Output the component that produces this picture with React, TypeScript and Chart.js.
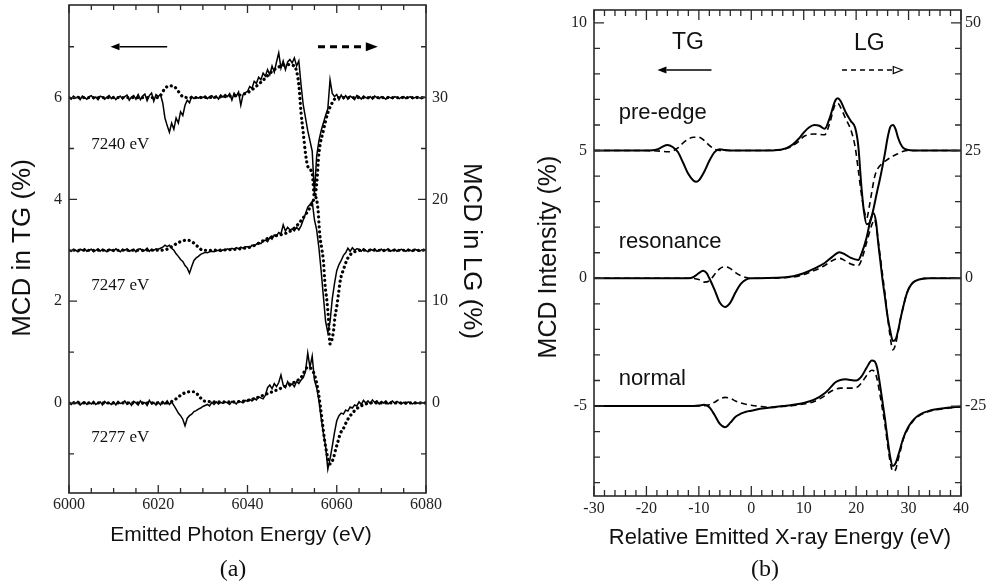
import React, { useEffect, useRef } from "react";
import { Chart, registerables } from "chart.js";

Chart.register(...registerables);

const SERIF = '"Liberation Serif", "DejaVu Serif", "Times New Roman", serif';
const SANS = '"Liberation Sans", Arial, Helvetica, sans-serif';

type Pt = [number, number];

// ================= Panel (a) data =================
// Solid (TG, left axis) curves sampled every 0.5 eV from 6000 eV
const A_X_START = 6000;
const A_X_STEP = 0.5;

const A_TG_7240 = [
  6.00, 5.97, 6.03, 5.99, 6.02, 5.96, 6.03, 6.00, 5.97, 6.02,
  6.04, 5.98, 6.01, 5.96, 6.03, 6.01, 5.97, 6.01, 6.04, 5.98,
  6.02, 5.96, 6.01, 6.03, 5.97, 6.02, 6.05, 5.95, 6.01, 6.04,
  5.97, 6.06, 5.96, 6.03, 6.07, 5.94, 6.04, 6.09, 5.93, 6.06,
  6.02, 6.06, 5.90, 5.60, 5.45, 5.32, 5.50, 5.38, 5.60, 5.50,
  5.72, 5.65, 5.85, 5.95, 5.90, 6.02, 5.98, 6.01, 5.99, 6.02,
  6.00, 6.03, 5.98, 6.02, 6.04, 5.99, 6.03, 5.97, 6.05, 6.01,
  6.06, 6.02, 6.08, 5.95, 6.09, 6.03, 6.11, 5.85, 6.06, 6.10,
  6.12, 6.22, 6.18, 6.32, 6.28, 6.40, 6.35, 6.48, 6.42, 6.55,
  6.45, 6.62, 6.50, 6.70, 6.88, 6.58, 6.72, 6.55, 6.70, 6.75,
  6.68, 6.78, 6.62, 6.72, 6.25, 5.85, 5.60, 5.35, 5.15, 4.95,
  4.10, 4.85, 5.15, 5.35, 5.50, 5.65, 5.78, 6.35, 6.08, 6.02,
  6.06, 5.96, 6.05, 5.98, 6.04, 5.97, 6.03, 6.00, 5.96, 6.04,
  6.02, 5.97, 6.03, 6.00, 5.98, 6.02, 5.97, 6.03, 6.00, 5.98,
  6.02, 6.00, 5.97, 6.02, 6.00, 5.98, 6.02, 6.00, 5.98, 6.01,
  6.02, 5.98, 6.00, 6.02, 5.98, 6.00, 6.02, 6.00, 5.98, 6.01, 6.00,
];

const A_TG_7247 = [
  3.00, 2.98, 3.02, 3.00, 2.97, 3.02, 3.00, 3.03, 2.98, 3.00,
  3.02, 2.97, 3.00, 3.03, 2.98, 3.02, 3.00, 2.97, 3.02, 3.00,
  2.98, 3.03, 3.00, 2.97, 3.02, 3.00, 3.03, 2.98, 3.00, 3.02,
  2.97, 3.02, 3.03, 2.98, 3.00, 3.04, 2.98, 3.02, 3.00, 3.03,
  3.02, 3.04, 3.06, 3.10, 3.07, 3.10, 3.04, 3.00, 2.93, 2.88,
  2.82, 2.78, 2.70, 2.65, 2.55, 2.68, 2.80, 2.85, 2.88, 2.92,
  2.94, 2.96, 2.95, 2.97, 2.98, 2.97, 2.99, 3.00, 2.98, 3.01,
  3.00, 3.03, 3.01, 3.04, 3.02, 3.05, 3.03, 3.06, 3.04, 3.07,
  3.07, 3.05, 3.10, 3.08, 3.12, 3.15, 3.13, 3.18, 3.20, 3.17,
  3.25, 3.22, 3.30, 3.28, 3.35, 3.32, 3.50, 3.38, 3.45, 3.40,
  3.42, 3.38, 3.45, 3.40, 3.48, 3.60, 3.72, 3.85, 3.90, 3.96,
  3.60, 3.40, 3.05, 2.60, 2.10, 1.60, 1.38, 1.60, 2.05, 2.35,
  2.60, 2.72, 2.80, 2.90, 2.95, 3.04, 2.98, 3.05, 3.00, 3.03,
  3.02, 2.98, 3.03, 3.00, 2.97, 3.02, 3.00, 3.03, 2.98, 3.00,
  3.02, 2.98, 3.00, 3.03, 2.98, 3.00, 3.02, 2.98, 3.00, 3.02,
  3.00, 2.98, 3.02, 3.00, 2.98, 3.02, 3.00, 2.98, 3.00, 3.02, 3.00,
];

const A_TG_7277 = [
  0.00, -0.03, 0.02, -0.01, 0.03, -0.04, 0.00, 0.02, -0.03, 0.01,
  -0.02, 0.03, -0.03, 0.00, 0.02, -0.04, 0.03, -0.01, 0.00, -0.03,
  0.02, -0.04, 0.03, -0.01, 0.00, 0.04, -0.03, 0.01, -0.05, 0.03,
  0.00, -0.04, 0.04, -0.02, 0.01, -0.05, 0.05, -0.02, 0.01, -0.04,
  0.02, -0.04, 0.03, -0.02, 0.04, -0.03, 0.02, -0.05, -0.12, -0.20,
  -0.25, -0.32, -0.45, -0.30, -0.25, -0.22, -0.17, -0.15, -0.12, -0.10,
  -0.07, -0.05, -0.03, -0.06, 0.01, -0.03, 0.02, -0.02, 0.01, -0.01,
  0.02, 0.00, -0.03, 0.03, 0.01, -0.02, 0.04, 0.02, 0.00, 0.05,
  0.03, 0.07, 0.04, 0.09, 0.06, 0.12, 0.10, 0.08, 0.15, 0.30,
  0.35, 0.28, 0.38, 0.32, 0.40, 0.55, 0.35, 0.30, 0.42, 0.33,
  0.38, 0.32, 0.42, 0.38, 0.45, 0.50, 0.62, 0.98, 0.70, 0.92,
  0.45, 0.30, 0.05, -0.30, -0.60, -0.85, -1.30, -1.10, -0.85, -0.58,
  -0.35, -0.25, -0.20, -0.22, -0.14, -0.16, -0.08, -0.10, -0.04, -0.06,
  0.02, -0.03, 0.05, 0.00, 0.04, -0.01, 0.06, 0.01, 0.04, -0.02,
  0.03, 0.00, 0.04, -0.02, 0.01, 0.04, -0.01, 0.03, 0.00, -0.02,
  0.01, -0.02, 0.02, 0.00, -0.02, 0.01, 0.00, -0.01, 0.01, 0.00, 0.00,
];

// Dotted (LG, right axis) curves: [energy, MCD in LG %]
const A_LG_7240: Pt[] = [
  [6000, 30], [6010, 30], [6020, 30], [6020.5, 30.2], [6021.5, 30.9], [6022.5, 31.15],
  [6023.5, 31.1], [6024.5, 30.6], [6025.5, 30.1], [6027, 30], [6035, 30.1], [6040, 30.5],
  [6043, 31.5], [6046, 32.75], [6049, 33.25], [6050.5, 33.1], [6051.5, 31.25], [6052, 28.5],
  [6052.5, 26.5], [6053, 24.5], [6053.5, 23.25], [6054.5, 22.5], [6055, 20.25], [6055.5, 21.5],
  [6056, 24.5], [6057, 26.75], [6058, 28.5], [6059, 29.5], [6060, 30], [6065, 30], [6080, 30],
];

const A_LG_7247: Pt[] = [
  [6000, 15], [6020, 15], [6022, 15.1], [6023.5, 15.5], [6025, 15.85], [6026.5, 16],
  [6028, 15.7], [6029, 15.3], [6030, 15], [6040, 15.25], [6045, 16.25], [6050, 17],
  [6053, 18.5], [6054.5, 19.6], [6055.2, 20.25], [6055.8, 19], [6056.2, 16.5], [6056.6, 15.25],
  [6057, 14], [6057.4, 11.5], [6057.8, 10], [6058.1, 8.5], [6058.5, 5.8], [6059.3, 7.15],
  [6059.6, 8.45], [6060, 9.45], [6060.4, 10.75], [6060.8, 12.05], [6061.5, 13.1], [6062.5, 14.25],
  [6064, 14.85], [6066, 15], [6080, 15],
];

const A_LG_7277: Pt[] = [
  [6000, 0], [6022, 0], [6024, 0.4], [6025, 0.75], [6026, 1], [6027, 1.1], [6028, 1.1],
  [6029, 0.75], [6030, 0.25], [6031, 0.15], [6035, 0.1], [6040, 0.25], [6045, 1], [6049, 1.75],
  [6052, 2.5], [6053.5, 3.5], [6054.5, 3.25], [6055.2, 2.5], [6055.8, 1.25], [6056.3, -0.25],
  [6056.8, -2], [6057.3, -3.75], [6057.8, -5], [6058.5, -6], [6059.2, -5.5], [6059.8, -4.5],
  [6060.3, -3.75], [6060.8, -3], [6061.5, -2.5], [6062.3, -1.75], [6063.5, -1], [6065, -0.4],
  [6068, 0], [6080, 0],
];

const A_X_TICKS = [6000, 6020, 6040, 6060, 6080];
const A_YL_TICKS = [0, 2, 4, 6];
const A_YR_TICKS = [0, 10, 20, 30];
const A_CURVE_LABELS = ["7240 eV", "7247 eV", "7277 eV"];

// ================= Panel (b) data =================
// Solid (TG, left axis): [relative energy, MCD %]
const B_PRE_TG: Pt[] = [
  [-30, 5], [-20, 5], [-18, 5.04], [-17, 5.14], [-16, 5.22], [-15, 5.14], [-14, 4.94],
  [-13, 4.52], [-12, 4.08], [-11, 3.82], [-10.5, 3.78], [-10, 3.83], [-9, 4.16], [-8, 4.6],
  [-7, 4.94], [-6, 5.05], [-5, 5.02], [-3, 5], [0, 5], [3, 5], [5, 5.02], [6, 5.05], [7, 5.12],
  [8, 5.25], [9, 5.45], [10, 5.7], [11, 5.9], [12, 6.0], [13, 5.97], [14, 5.85], [15, 6.3],
  [16, 6.95], [16.5, 7.05], [17, 6.95], [18, 6.5], [19, 6.15], [19.8, 5.9], [20.4, 5.2],
  [21, 3.6], [21.5, 2.6], [22, 2.12], [22.5, 2.15], [23, 2.45], [23.5, 2.9], [24, 3.4],
  [24.5, 3.85], [25, 4.35], [25.5, 4.9], [26, 5.5], [26.5, 5.92], [27, 6.0], [27.5, 5.85],
  [28, 5.5], [28.5, 5.25], [29, 5.1], [30, 5.02], [32, 5], [40, 5],
];

const B_RES_TG: Pt[] = [
  [-30, 0], [-15, 0], [-12, 0], [-11, 0.05], [-10, 0.2], [-9.2, 0.3], [-8.5, 0.2], [-8, 0],
  [-7, -0.45], [-6, -0.95], [-5, -1.12], [-4, -0.95], [-3, -0.55], [-2, -0.22], [-1, -0.05],
  [0, 0], [5, 0.02], [8, 0.08], [10, 0.2], [12, 0.38], [14, 0.6], [15.5, 0.85], [16.8, 1.02],
  [18, 0.92], [19, 0.8], [20.4, 0.72], [21, 0.95], [22, 1.6], [22.7, 2.25], [23.3, 2.55],
  [23.8, 2.2], [24.2, 1.4], [24.6, 0.7], [25, 0], [25.5, -0.75], [26, -1.5], [26.5, -2.05],
  [27, -2.45], [27.5, -2.4], [28, -2.05], [28.5, -1.55], [29, -1.1], [29.5, -0.7], [30, -0.42],
  [30.5, -0.25], [31, -0.14], [32, -0.05], [34, 0], [40, 0],
];

const B_NOR_TG: Pt[] = [
  [-30, -5], [-12, -5], [-10, -4.98], [-9, -4.95], [-8, -5.05], [-7, -5.35], [-6, -5.7],
  [-5, -5.83], [-4, -5.65], [-3, -5.42], [-2, -5.3], [-1, -5.22], [0, -5.18], [2, -5.1],
  [4, -5.05], [6, -5.0], [8, -4.95], [10, -4.88], [12, -4.75], [14, -4.5], [15, -4.3],
  [16, -4.08], [17, -3.98], [18, -3.95], [19, -3.98], [20, -4.0], [21, -3.85], [22, -3.5],
  [23, -3.22], [23.5, -3.25], [24, -3.5], [24.5, -4.1], [25, -4.8], [25.5, -5.5], [26, -6.3],
  [26.5, -7.0], [27, -7.35], [27.5, -7.25], [28, -6.95], [28.5, -6.6], [29, -6.25], [30, -5.8],
  [31, -5.52], [32, -5.35], [34, -5.18], [37, -5.08], [40, -5.02],
];

// Dashed (LG, right axis)
const B_PRE_LG: Pt[] = [
  [-30, 25], [-20, 25], [-17, 24.85], [-16, 24.75], [-15, 24.9], [-14, 25.5], [-13, 26.5],
  [-12, 27.25], [-11, 27.6], [-10, 27.6], [-9, 27], [-8, 26], [-7, 25.25], [-6, 25], [0, 25],
  [5, 25.1], [7, 25.5], [8, 26], [9, 26.75], [10, 27.75], [11, 28.1], [12, 28.25], [13, 28.15],
  [14, 28.1], [15, 30.5], [16, 34], [16.5, 34.25], [17, 33.5], [18, 31.25], [19, 29],
  [19.8, 25.75], [20.4, 21.25], [21, 16.5], [21.5, 13.5], [22, 11.75], [22.5, 14], [23, 17],
  [23.5, 19.75], [24, 21.25], [25, 22.5], [26, 23.25], [27, 23.9], [28, 24.4], [29, 24.85],
  [30, 25], [40, 25],
];

const B_RES_LG: Pt[] = [
  [-30, 0], [-12, 0], [-10, -0.25], [-9, -0.75], [-8, -0.5], [-7, 0.75], [-6, 1.9], [-5, 2.25],
  [-4, 1.9], [-3, 1.1], [-2, 0.5], [-1, 0.15], [0, 0], [8, 0.25], [12, 1.5], [14, 2.5],
  [15.5, 3.5], [16.8, 3.9], [18, 3.4], [19, 2.8], [20.4, 2.5], [21, 3.5], [22, 7], [23, 10.5],
  [23.5, 11.5], [24, 9], [24.5, 5], [25, 1], [25.5, -3], [26, -7.5], [26.5, -11.5], [27, -14],
  [27.5, -13], [28, -10.5], [28.5, -7.75], [29, -5.5], [29.5, -3.5], [30, -2.1], [30.5, -1.25],
  [31, -0.7], [32, -0.25], [34, 0], [40, 0],
];

const B_NOR_LG: Pt[] = [
  [-30, -25], [-12, -25], [-10, -25], [-8, -24.75], [-7, -24.25], [-6, -23.6], [-5, -23.3],
  [-4, -23.5], [-3, -24], [-2, -24.4], [0, -24.85], [2, -25.1], [4, -25.25], [6, -25.1],
  [8, -24.9], [10, -24.6], [12, -24.1], [14, -23], [15, -22.25], [16, -21.75], [17, -21.5],
  [18, -21.5], [19, -21.5], [20, -21.4], [21, -20.5], [22, -19], [23, -18], [23.5, -18.25],
  [24, -19.75], [24.5, -22.5], [25, -25.5], [25.5, -28.75], [26, -32.5], [26.5, -36],
  [27, -37.75], [27.5, -37.5], [28, -35.5], [28.5, -33.5], [29, -31.5], [30, -29.25],
  [31, -27.75], [32, -26.9], [34, -26], [37, -25.5], [40, -25.15],
];

const B_X_TICKS = [-30, -20, -10, 0, 10, 20, 30, 40];
const B_YL_TICKS = [-5, 0, 5, 10];
const B_YR_TICKS = [-25, 0, 25, 50];
const B_CURVE_LABELS = ["pre-edge", "resonance", "normal"];

// ================= helpers =================
const W = 496;
const H = 585;

function toPts(pairs: Pt[]) {
  return pairs.map(([x, y]) => ({ x, y }));
}
function gridPts(vals: number[], start: number, step: number) {
  return vals.map((y, i) => ({ x: start + i * step, y }));
}

interface FrameSpec {
  xFrom: number; xTo: number; xStep: number; xMajor: number;
  yFrom: number; yTo: number; yStep: number; yMajor: number;
  majorLen: number; minorLen: number;
}

function isMult(v: number, m: number) {
  return Math.abs(v / m - Math.round(v / m)) < 1e-6;
}

function drawFrame(chart: any, f: FrameSpec) {
  const { ctx, chartArea: a } = chart;
  const xs = chart.scales.x;
  const ys = chart.scales.y;
  ctx.save();
  ctx.strokeStyle = "#2a2a2a";
  ctx.lineWidth = 1.3;
  ctx.beginPath();
  const nx = Math.round((f.xTo - f.xFrom) / f.xStep);
  for (let k = 0; k <= nx; k++) {
    const v = f.xFrom + k * f.xStep;
    const p = xs.getPixelForValue(v);
    const len = isMult(v, f.xMajor) ? f.majorLen : f.minorLen;
    ctx.moveTo(p, a.bottom);
    ctx.lineTo(p, a.bottom - len);
    ctx.moveTo(p, a.top);
    ctx.lineTo(p, a.top + len);
  }
  const ny = Math.round((f.yTo - f.yFrom) / f.yStep);
  for (let k = 0; k <= ny; k++) {
    const v = f.yFrom + k * f.yStep;
    const p = ys.getPixelForValue(v);
    const len = isMult(v, f.yMajor) ? f.majorLen : f.minorLen;
    ctx.moveTo(a.left, p);
    ctx.lineTo(a.left + len, p);
    ctx.moveTo(a.right, p);
    ctx.lineTo(a.right - len, p);
  }
  ctx.stroke();
  ctx.lineWidth = 1.6;
  ctx.strokeRect(a.left, a.top, a.right - a.left, a.bottom - a.top);
  ctx.restore();
}

function drawArrow(
  ctx: CanvasRenderingContext2D,
  x1: number,
  y: number,
  x2: number,
  o: { width: number; dash?: number[]; headLen: number; headHalf: number; fill: boolean }
) {
  const dir = Math.sign(x2 - x1);
  ctx.save();
  ctx.strokeStyle = "#000";
  ctx.fillStyle = "#000";
  ctx.lineWidth = o.width;
  ctx.setLineDash(o.dash || []);
  ctx.beginPath();
  ctx.moveTo(x1, y);
  ctx.lineTo(x2 - dir * o.headLen, y);
  ctx.stroke();
  ctx.setLineDash([]);
  ctx.lineWidth = 1.2;
  ctx.beginPath();
  ctx.moveTo(x2, y);
  ctx.lineTo(x2 - dir * o.headLen, y - o.headHalf);
  ctx.lineTo(x2 - dir * o.headLen, y + o.headHalf);
  ctx.closePath();
  if (o.fill) {
    ctx.fill();
  } else {
    ctx.fillStyle = "#fff";
    ctx.fill();
    ctx.stroke();
  }
  ctx.restore();
}

function rotText(ctx: CanvasRenderingContext2D, t: string, x: number, y: number, angle: number, font: string) {
  ctx.save();
  ctx.translate(x, y);
  ctx.rotate(angle);
  ctx.font = font;
  ctx.textAlign = "center";
  ctx.textBaseline = "middle";
  ctx.fillText(t, 0, 0);
  ctx.restore();
}

function zeroPad(s: any) {
  s.paddingLeft = 0;
  s.paddingRight = 0;
  s.paddingTop = 0;
  s.paddingBottom = 0;
}

function axis(pos: string, min: number, max: number, vals: number[], size: number, pad: number) {
  const horizontal = pos === "bottom";
  return {
    type: "linear",
    position: pos,
    min,
    max,
    grid: { display: false, drawTicks: false },
    border: { display: false },
    afterBuildTicks: (s: any) => {
      s.ticks = vals.map((v) => ({ value: v }));
    },
    afterFit: (s: any) => {
      if (horizontal) s.height = size;
      else s.width = size;
      zeroPad(s);
    },
    ticks: {
      font: { family: SERIF, size: 16 },
      color: "#222",
      padding: pad,
      autoSkip: false,
      maxRotation: 0,
      minRotation: 0,
      callback: (v: any) => String(v),
    },
  };
}

function solidSet(data: any[], width: number, smooth: boolean) {
  return {
    data,
    yAxisID: "y",
    borderColor: "#000",
    borderWidth: width,
    pointRadius: 0,
    fill: false,
    tension: 0,
    cubicInterpolationMode: smooth ? "monotone" : "default",
  };
}

function brokenSet(data: any[], width: number, dash: number[], round: boolean) {
  return {
    data,
    yAxisID: "y2",
    borderColor: "#000",
    borderWidth: width,
    borderDash: dash,
    borderCapStyle: round ? "round" : "butt",
    pointRadius: 0,
    fill: false,
    cubicInterpolationMode: "monotone",
  };
}

const baseOptions = (top: number) => ({
  animation: false,
  responsive: false,
  maintainAspectRatio: false,
  devicePixelRatio: 1,
  events: [],
  layout: { padding: { top, left: 0, right: 0, bottom: 0 } },
  plugins: { legend: { display: false }, tooltip: { enabled: false }, title: { display: false } },
});

// ================= Panel (a) =================
const A_FRAME: FrameSpec = {
  xFrom: 6000, xTo: 6080, xStep: 5, xMajor: 20,
  yFrom: -1, yTo: 7, yStep: 1, yMajor: 2,
  majorLen: 8, minorLen: 5,
};

function configA(): any {
  return {
    type: "line",
    data: {
      datasets: [
        solidSet(gridPts(A_TG_7240, A_X_START, A_X_STEP), 1.5, false),
        solidSet(gridPts(A_TG_7247, A_X_START, A_X_STEP), 1.5, false),
        solidSet(gridPts(A_TG_7277, A_X_START, A_X_STEP), 1.5, false),
        brokenSet(toPts(A_LG_7240), 3.2, [0.1, 4.8], true),
        brokenSet(toPts(A_LG_7247), 3.2, [0.1, 4.8], true),
        brokenSet(toPts(A_LG_7277), 3.2, [0.1, 4.8], true),
      ],
    },
    options: {
      ...baseOptions(5),
      scales: {
        x: axis("bottom", 6000, 6080, A_X_TICKS, 92, 2),
        y: axis("left", -1.77, 7.82, A_YL_TICKS, 69, 7),
        y2: axis("right", -8.85, 39.1, A_YR_TICKS, 70, 6),
      },
    },
    plugins: [
      {
        id: "decorA",
        afterDraw(chart: any) {
          drawFrame(chart, A_FRAME);
          const ctx: CanvasRenderingContext2D = chart.ctx;
          const xs = chart.scales.x;
          const ys = chart.scales.y;
          ctx.save();
          ctx.fillStyle = "#111";
          ctx.font = `17px ${SERIF}`;
          ctx.textAlign = "left";
          ctx.textBaseline = "middle";
          const labelY = [5.07, 2.31, -0.68];
          A_CURVE_LABELS.forEach((t, i) => {
            ctx.fillText(t, xs.getPixelForValue(6005), ys.getPixelForValue(labelY[i]));
          });
          const ay = ys.getPixelForValue(7.0);
          drawArrow(ctx, xs.getPixelForValue(6022), ay, xs.getPixelForValue(6009.3), {
            width: 1.3, headLen: 9, headHalf: 3.5, fill: true,
          });
          drawArrow(ctx, xs.getPixelForValue(6055.8), ay, xs.getPixelForValue(6069.2), {
            width: 2.8, dash: [7, 5], headLen: 12, headHalf: 4.5, fill: true,
          });
          rotText(ctx, "MCD in TG (%)", 23, 248, -Math.PI / 2, `26px ${SANS}`);
          rotText(ctx, "MCD in LG (%)", 471, 251, Math.PI / 2, `26px ${SANS}`);
          ctx.font = `21px ${SANS}`;
          ctx.textAlign = "center";
          ctx.fillText("Emitted Photon Energy (eV)", 241, 535);
          ctx.font = `24px ${SERIF}`;
          ctx.fillText("(a)", 233, 570);
          ctx.restore();
        },
      },
    ],
  };
}

// ================= Panel (b) =================
const B_FRAME: FrameSpec = {
  xFrom: -30, xTo: 40, xStep: 2, xMajor: 10,
  yFrom: -8, yTo: 10, yStep: 1, yMajor: 5,
  majorLen: 10, minorLen: 6,
};

function configB(): any {
  return {
    type: "line",
    data: {
      datasets: [
        solidSet(toPts(B_PRE_TG), 2, true),
        solidSet(toPts(B_RES_TG), 2, true),
        solidSet(toPts(B_NOR_TG), 2, true),
        brokenSet(toPts(B_PRE_LG), 1.6, [6, 4], false),
        brokenSet(toPts(B_RES_LG), 1.6, [6, 4], false),
        brokenSet(toPts(B_NOR_LG), 1.6, [6, 4], false),
      ],
    },
    options: {
      ...baseOptions(10),
      scales: {
        x: axis("bottom", -30, 40, B_X_TICKS, 89, 3),
        y: axis("left", -8.52, 10.5, B_YL_TICKS, 98, 7),
        y2: axis("right", -42.6, 52.5, B_YR_TICKS, 31, 4),
      },
    },
    plugins: [
      {
        id: "decorB",
        afterDraw(chart: any) {
          drawFrame(chart, B_FRAME);
          const ctx: CanvasRenderingContext2D = chart.ctx;
          const xs = chart.scales.x;
          const ys = chart.scales.y;
          ctx.save();
          ctx.fillStyle = "#111";
          ctx.font = `23px ${SANS}`;
          ctx.textAlign = "center";
          ctx.textBaseline = "middle";
          ctx.fillText("TG", xs.getPixelForValue(-12.1), ys.getPixelForValue(9.22));
          ctx.fillText("LG", xs.getPixelForValue(22.5), ys.getPixelForValue(9.17));
          const ay = ys.getPixelForValue(8.15);
          drawArrow(ctx, xs.getPixelForValue(-7.6), ay, xs.getPixelForValue(-17.9), {
            width: 1.5, headLen: 9, headHalf: 3.5, fill: true,
          });
          drawArrow(ctx, xs.getPixelForValue(17.3), ay, xs.getPixelForValue(28.8), {
            width: 1.4, dash: [5, 4], headLen: 9, headHalf: 3.5, fill: false,
          });
          ctx.font = `22px ${SANS}`;
          ctx.textAlign = "left";
          const labelY = [6.47, 1.42, -3.94];
          B_CURVE_LABELS.forEach((t, i) => {
            ctx.fillText(t, xs.getPixelForValue(-25.3), ys.getPixelForValue(labelY[i]));
          });
          rotText(ctx, "MCD Intensity (%)", 53, 257, -Math.PI / 2, `25px ${SANS}`);
          ctx.font = `22px ${SANS}`;
          ctx.textAlign = "center";
          ctx.fillText("Relative Emitted X-ray Energy (eV)", 284, 538);
          ctx.font = `24px ${SERIF}`;
          ctx.fillText("(b)", 269, 570);
          ctx.restore();
        },
      },
    ],
  };
}

function Panel({ make, left }: { make: () => any; left: number }) {
  const ref = useRef<HTMLCanvasElement>(null);
  useEffect(() => {
    if (!ref.current) return;
    const chart = new Chart(ref.current, make());
    return () => chart.destroy();
  }, []);
  return (
    <canvas
      ref={ref}
      width={W}
      height={H}
      style={{ position: "absolute", left, top: 0, width: W, height: H }}
    />
  );
}

export default function App() {
  return (
    <div
      style={{
        position: "absolute",
        left: 0,
        top: 0,
        width: 992,
        height: 585,
        background: "#fff",
        overflow: "hidden",
      }}
    >
      <Panel make={configA} left={0} />
      <Panel make={configB} left={496} />
    </div>
  );
}
